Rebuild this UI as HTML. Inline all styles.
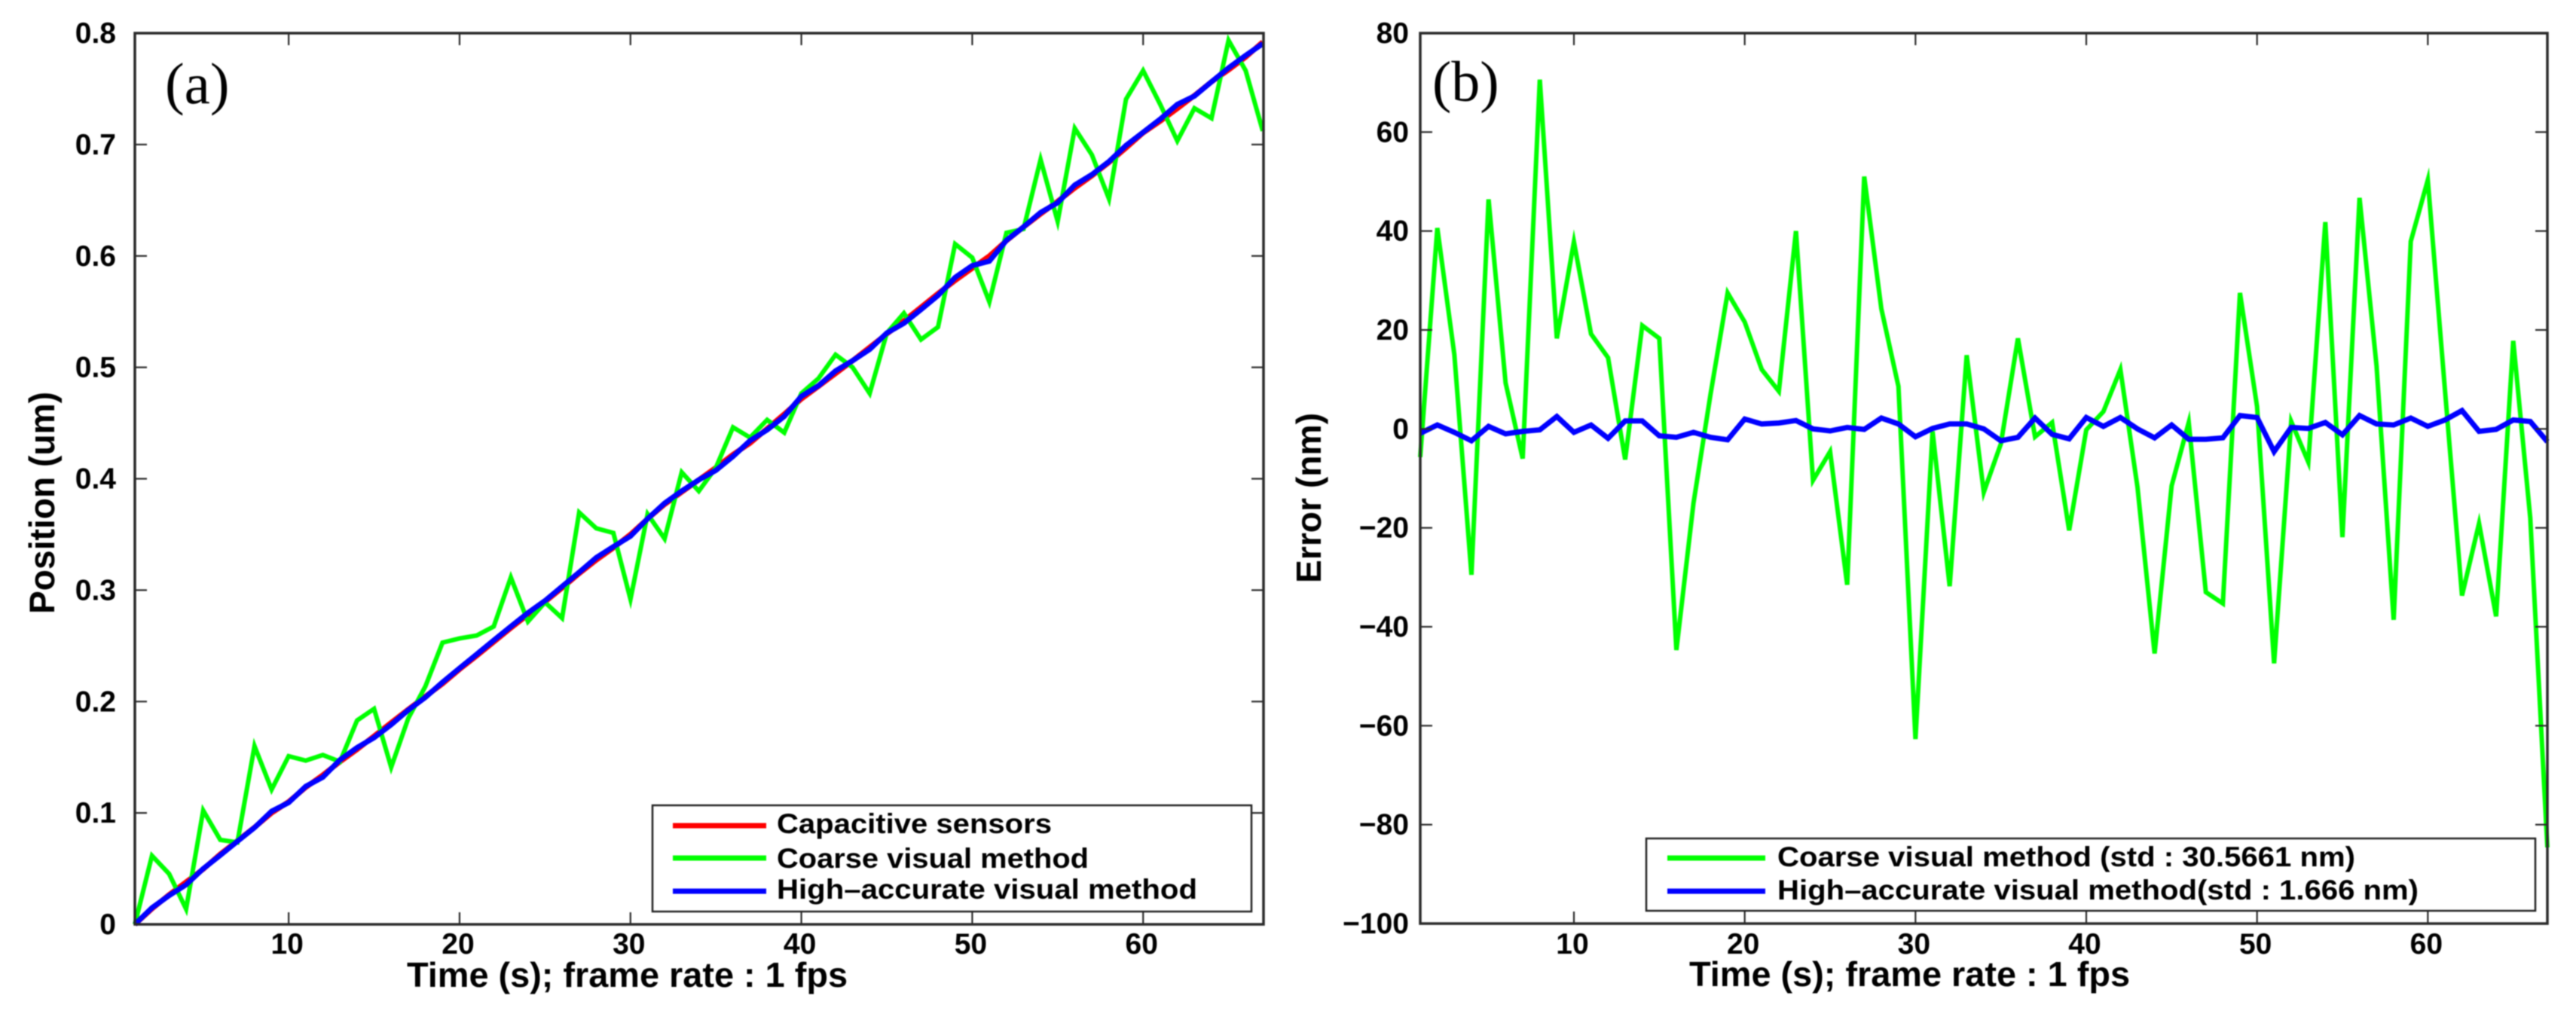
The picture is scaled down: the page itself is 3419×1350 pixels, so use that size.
<!DOCTYPE html>
<html lang="en">
<head>
<meta charset="utf-8">
<title>Position and error vs time</title>
<style>
html,body{margin:0;padding:0;background:#fff;width:3419px;height:1350px;overflow:hidden}
svg{display:block;filter:blur(0.9px)}
text{font-family:"Liberation Sans",sans-serif;font-weight:bold;fill:#000}
.panel{font-family:"Liberation Serif",serif;font-weight:normal}
</style>
</head>
<body>
<svg id="figure" xmlns="http://www.w3.org/2000/svg" width="3419" height="1350" viewBox="0 0 3419 1350">
  <rect x="0" y="0" width="3419" height="1350" fill="#fff"/>
  <g id="a-marks"></g>
  <g id="a-axes"></g>
  <g id="b-marks"></g>
  <g id="b-axes"></g>

  <text class="panel" x="219" y="137" font-size="77">(a)</text>
  <text class="panel" x="1901" y="134" font-size="76">(b)</text>

  <text x="540" y="1310" font-size="46" textLength="585" lengthAdjust="spacingAndGlyphs">Time (s); frame rate : 1 fps</text>
  <text x="2242" y="1309" font-size="46" textLength="585" lengthAdjust="spacingAndGlyphs">Time (s); frame rate : 1 fps</text>
  <text transform="translate(72 815) rotate(-90)" font-size="47" textLength="295" lengthAdjust="spacingAndGlyphs">Position (um)</text>
  <text transform="translate(1753 774) rotate(-90)" font-size="46" textLength="226" lengthAdjust="spacingAndGlyphs">Error (nm)</text>

  <g>
    <rect x="866" y="1069" width="795" height="141" fill="#fff" stroke="#222" stroke-width="2.5"/>
    <line x1="893" x2="1017" y1="1096" y2="1096" stroke="#ff0000" stroke-width="7"/>
    <text x="1031" y="1106" font-size="37" textLength="365" lengthAdjust="spacingAndGlyphs">Capacitive sensors</text>
    <line x1="893" x2="1017" y1="1139" y2="1139" stroke="#00ff00" stroke-width="7"/>
    <text x="1031" y="1152" font-size="37" textLength="414" lengthAdjust="spacingAndGlyphs">Coarse visual method</text>
    <line x1="893" x2="1017" y1="1183" y2="1183" stroke="#0000ff" stroke-width="7"/>
    <text x="1031" y="1193" font-size="37" textLength="558" lengthAdjust="spacingAndGlyphs">High–accurate visual method</text>
  </g>

  <g>
    <rect x="2185" y="1113" width="1180" height="96" fill="#fff" stroke="#222" stroke-width="2.5"/>
    <line x1="2213" x2="2343" y1="1139" y2="1139" stroke="#00ff00" stroke-width="7"/>
    <text x="2359" y="1150" font-size="37" textLength="767" lengthAdjust="spacingAndGlyphs">Coarse visual method (std : 30.5661 nm)</text>
    <line x1="2213" x2="2343" y1="1183" y2="1183" stroke="#0000ff" stroke-width="7"/>
    <text x="2359" y="1194" font-size="37" textLength="851" lengthAdjust="spacingAndGlyphs">High–accurate visual method(std : 1.666 nm)</text>
  </g>
</svg>

<script>
const xTicks = [10, 20, 30, 40, 50, 60];
const aYTicks = [0, 0.1, 0.2, 0.3, 0.4, 0.5, 0.6, 0.7, 0.8];
const bYTicks = [-100, -80, -60, -40, -20, 0, 20, 40, 60, 80];
const timeSeconds = [1,2,3,4,5,6,7,8,9,10,11,12,13,14,15,16,17,18,19,20,21,22,23,24,25,26,27,28,29,30,31,32,33,34,35,36,37,38,39,40,41,42,43,44,45,46,47,48,49,50,51,52,53,54,55,56,57,58,59,60,61,62,63,64,65,66,67];

const capacitivePosition = [0,.014,.0265,.038,.0495,.063,.075,.087,.1,.11,.123,.134,.146,.157,.169,.181,.193,.2045,.216,.229,.241,.2535,.266,.278,.2895,.302,.315,.327,.338,.35,.364,.377,.388,.399,.41,.4217,.432,.445,.458,.4717,.483,.4945,.506,.518,.53,.5417,.554,.5663,.578,.589,.6,.6137,.626,.6377,.649,.661,.672,.684,.697,.7105,.721,.7323,.744,.7564,.767,.7785,.792];

const coarsePosition = [0,.0616,.0454,.0137,.1022,.0758,.0736,.16,.121,.151,.147,.152,.146,.183,.1935,.141,.185,.2136,.2529,.2567,.2593,.2674,.3115,.2718,.289,.2749,.3697,.3555,.3514,.2918,.3683,.3462,.4058,.3889,.41,.4462,.437,.4529,.4414,.4766,.49,.5114,.5,.4766,.5307,.5486,.525,.5362,.6107,.5985,.5588,.6208,.6242,.6865,.631,.7145,.6908,.6513,.7407,.7664,.736,.7033,.7326,.7236,.7935,.7664,.7122];

const highAccuratePosition = [0,.0148,.0258,.0356,.05,.062,.0745,.0868,.1015,.1093,.1238,.1321,.1476,.1586,.1676,.1793,.1923,.2038,.2173,.23,.2424,.255,.2674,.2796,.2905,.3033,.316,.3292,.339,.3484,.3641,.378,.389,.399,.4076,.42,.4342,.4439,.456,.474,.4835,.4968,.506,.5162,.5308,.5396,.5519,.5645,.5807,.5913,.5954,.614,.6261,.639,.6478,.6637,.673,.6848,.6992,.711,.7228,.736,.7435,.7563,.7688,.78,.7905];

const coarseError = [-5.7,40.6,15,-29.5,46.4,9.3,-6,70.6,18.3,37.8,19.2,14.4,-6.2,20.9,18.3,-44.7,-15,7,27.5,21.6,12,7.6,40,-10.4,-4.6,-31.5,51,24.3,8.6,-62.7,-0.5,-31.8,14.9,-12.8,-3,18.3,-1.6,1.3,-20.5,-0.2,3.5,12,-11.8,-45.4,-11.5,1.3,-33,-35.3,27.5,4.5,-47.4,1.5,-6.7,41.8,-21.9,46.7,12.7,-38.6,37.9,50.3,8,-33.7,-19.1,-37.9,17.8,-18,-84.6];

const highAccurateError = [-0.9,0.8,-0.7,-2.4,0.5,-1,-0.5,-0.2,2.5,-0.7,0.8,-1.9,1.6,1.6,-1.4,-1.7,-0.7,-1.7,-2.2,2,1,1.2,1.7,0,-0.4,0.3,-0.1,2.2,1,-1.6,0.1,1,1,0,-2.4,-1.7,2.2,-1.1,-2,2.3,0.5,2.3,0,-1.8,0.8,-2.1,-2.1,-1.8,2.7,2.3,-4.6,0.3,0.1,1.3,-1.2,2.7,1,0.8,2.2,0.5,1.8,3.7,-0.5,-0.1,1.8,1.5,-2.6];

const SVGNS = 'http://www.w3.org/2000/svg';
const AXIS_COLOR = '#2a2a2a';

function scaleLinear(d0, d1, r0, r1) {
  return function (v) { return r0 + (v - d0) * (r1 - r0) / (d1 - d0); };
}
function svgEl(tag, attrs) {
  const el = document.createElementNS(SVGNS, tag);
  for (const k in attrs) el.setAttribute(k, attrs[k]);
  return el;
}
function seriesLine(parent, xs, ys, xScale, yScale, color, width, name) {
  const pts = xs.map(function (x, i) { return xScale(x).toFixed(1) + ',' + yScale(ys[i]).toFixed(1); }).join(' ');
  const line = svgEl('polyline', { points: pts, fill: 'none', stroke: color, 'stroke-width': width, 'stroke-linejoin': 'miter', 'stroke-miterlimit': 6 });
  
  
  parent.appendChild(line);
}
function formatTick(v) {
  return v < 0 ? '\u2212' + Math.abs(v) : String(v);
}
function drawAxes(parent, box, xScale, yScale, yTicks, labelRight, fontSize) {
  const frame = svgEl('rect', { x: box.left, y: box.top, width: box.right - box.left, height: box.bottom - box.top, fill: 'none', stroke: AXIS_COLOR, 'stroke-width': 3.5 });
  
  
  parent.appendChild(frame);

  xTicks.forEach(function (t) {
    const x = xScale(t);
    [[box.top, box.top + 16], [box.bottom, box.bottom - 16]].forEach(function (p) {
      const tick = svgEl('line', { x1: x, x2: x, y1: p[0], y2: p[1], stroke: AXIS_COLOR, 'stroke-width': 2.2 });
      
      
      parent.appendChild(tick);
    });
    const label = svgEl('text', { x: x - 2, y: 1266, 'font-size': fontSize, 'text-anchor': 'middle' });
    label.textContent = formatTick(t);
    
    
    parent.appendChild(label);
  });

  yTicks.forEach(function (t) {
    const y = yScale(t);
    [[box.left, box.left + 16], [box.right, box.right - 16]].forEach(function (p) {
      const tick = svgEl('line', { x1: p[0], x2: p[1], y1: y, y2: y, stroke: AXIS_COLOR, 'stroke-width': 2.2 });
      
      
      parent.appendChild(tick);
    });
    const label = svgEl('text', { x: labelRight, y: y + 13, 'font-size': fontSize, 'text-anchor': 'end' });
    label.textContent = formatTick(t);
    
    
    parent.appendChild(label);
  });
}

const boxA = { left: 179, right: 1677, top: 44, bottom: 1227 };
const boxB = { left: 1885, right: 3381, top: 44, bottom: 1226 };

const xA = scaleLinear(1, 67, 179, 1676);
const yA = scaleLinear(0, 0.8, 1227, 44);
const xB = scaleLinear(1, 67, 1885, 3381);
const yB = scaleLinear(-100, 80, 1226, 44);

const aMarks = document.getElementById('a-marks');
const bMarks = document.getElementById('b-marks');

seriesLine(aMarks, timeSeconds, capacitivePosition, xA, yA, '#ff0000', 7, 'capacitive-sensors-line');
seriesLine(aMarks, timeSeconds, coarsePosition, xA, yA, '#00ff00', 6, 'coarse-visual-line');
seriesLine(aMarks, timeSeconds, highAccuratePosition, xA, yA, '#0000ff', 7, 'high-accurate-visual-line');

seriesLine(bMarks, timeSeconds, coarseError, xB, yB, '#00ff00', 6, 'coarse-error-line');
seriesLine(bMarks, timeSeconds, highAccurateError, xB, yB, '#0000ff', 7, 'high-accurate-error-line');

drawAxes(document.getElementById('a-axes'), boxA, xA, yA, aYTicks, 154, 39);
drawAxes(document.getElementById('b-axes'), boxB, xB, yB, bYTicks, 1870, 39);
</script>
</body>
</html>
